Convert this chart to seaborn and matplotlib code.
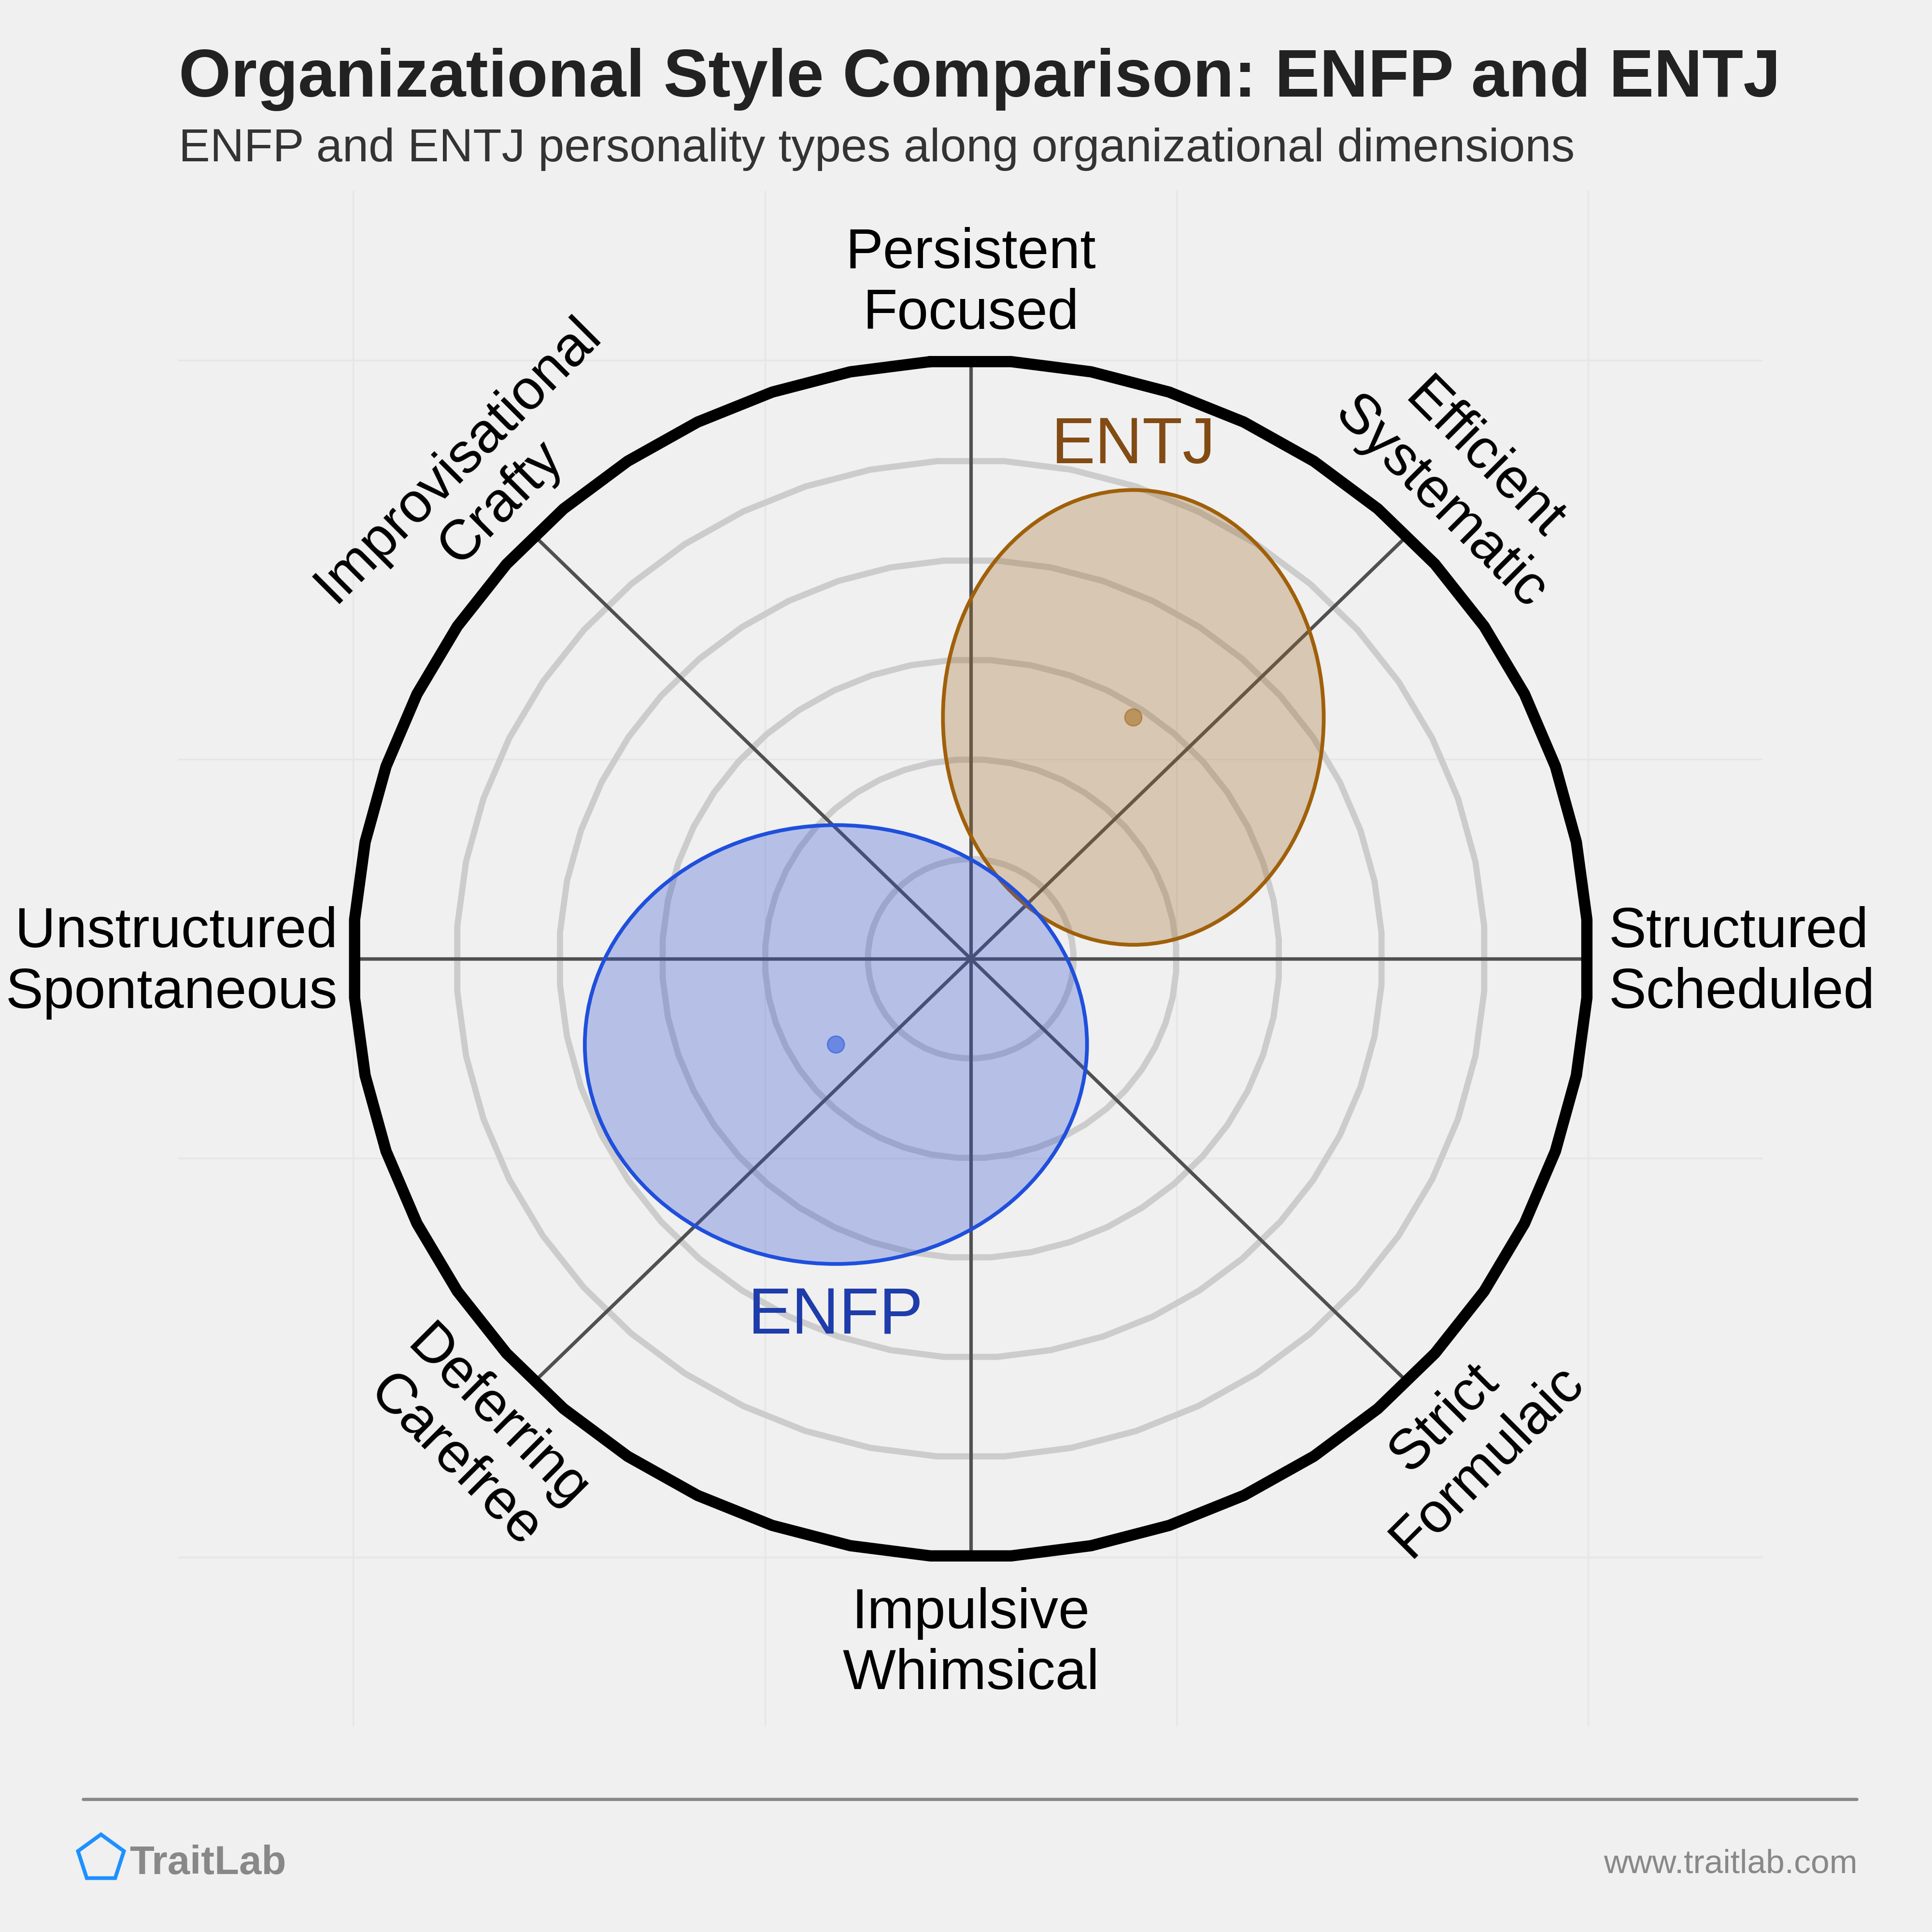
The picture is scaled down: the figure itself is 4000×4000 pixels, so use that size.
import numpy as np
import pandas as pd
import matplotlib.pyplot as plt
import seaborn as sns
from matplotlib.patches import Ellipse, RegularPolygon
from matplotlib.lines import Line2D
from matplotlib.colors import to_rgba

# --- donnees ---
types = ["ENTJ", "ENFP"]
center_x = [1.58, -1.31]
center_y = [2.42, -0.86]
spread_x = [1.85, 2.44]
spread_y = [2.28, 2.20]
fill_colors = ["#a06b28", "#3253d5"]
edge_colors = ["#a0600a", "#1f4fdc"]
label_colors = ["#824b14", "#1e3caa"]

ring_levels = [1, 2, 3, 4, 5]
outer_level = 6
axis_angles = [0, 45, 90, 135, 180, 225, 270, 315]
axis_labels = [
    "Structured\nScheduled",
    "Efficient\nSystematic",
    "Persistent\nFocused",
    "Improvisational\nCrafty",
    "Unstructured\nSpontaneous",
    "Deferring\nCarefree",
    "Impulsive\nWhimsical",
    "Strict\nFormulaic",
]

title = "Organizational Style Comparison: ENFP and ENTJ"
subtitle = "ENFP and ENTJ personality types along organizational dimensions"

# --- style ---
sns.set_theme(style="whitegrid", rc={
    "axes.facecolor": "#f0f0f0",
    "figure.facecolor": "#f0f0f0",
    "grid.color": "#e6e6e6",
    "grid.linewidth": 0.6,
})
plt.rcParams["font.family"] = ["Liberation Sans", "DejaVu Sans"]

fig = plt.figure(figsize=(10, 10), dpi=400)
ax = fig.add_axes([0.0923, 0.10625, 0.8203, 0.795])
ax.set_xlim(-7.7, 7.7)
ax.set_ylim(-7.7, 7.7)
ax.set_xticks([-6, -2, 2, 6])
ax.set_yticks([-6, -2, 2, 6])
ax.tick_params(labelbottom=False, labelleft=False, length=0)
for s in ax.spines.values():
    s.set_visible(False)

# anneaux
n_pts = 48
theta = np.deg2rad(90 + (np.arange(n_pts + 1) + 0.5) * 360 / n_pts)
for lvl in ring_levels:
    ax.plot(lvl * np.cos(theta), lvl * np.sin(theta), color="#cccccc", lw=2.3, zorder=2)
ax.plot(outer_level * np.cos(theta), outer_level * np.sin(theta), color="black", lw=4.2, zorder=4)

# axes radiaux
for ang in axis_angles[:4]:
    a = np.deg2rad(ang)
    ax.plot([-outer_level * np.cos(a), outer_level * np.cos(a)],
            [-outer_level * np.sin(a), outer_level * np.sin(a)],
            color="#505050", lw=1.3, zorder=3)

# ellipses des types
for i, t in enumerate(types):
    ell = Ellipse((center_x[i], center_y[i]), 2 * spread_x[i], 2 * spread_y[i],
                  facecolor=to_rgba(fill_colors[i], 0.3), edgecolor=edge_colors[i],
                  lw=1.4, zorder=5)
    ax.add_patch(ell)

df = pd.DataFrame({"x": center_x, "y": center_y, "type": types})
sns.scatterplot(data=df, x="x", y="y", hue="type", palette=dict(zip(types, edge_colors)),
                s=40, alpha=0.5, edgecolor=None, legend=False, ax=ax, zorder=6)
ax.set_xlabel("")
ax.set_ylabel("")

# etiquettes des types
ax.text(center_x[0], center_y[0] + spread_y[0] + 0.44, types[0], color=label_colors[0],
        fontsize=24.5, ha="center", va="center", zorder=7)
ax.text(center_x[1], center_y[1] - spread_y[1] - 0.53, types[1], color=label_colors[1],
        fontsize=24.5, ha="center", va="center", zorder=7)

# etiquettes des axes
placement = {
    0: ("left", "center", 0, 6.2),
    45: ("center", "bottom", -45, 6.2),
    90: ("center", "bottom", 0, 6.2),
    135: ("center", "bottom", 45, 6.2),
    180: ("right", "center", 0, 6.15),
    225: ("center", "top", -45, 6.25),
    270: ("center", "top", 0, 6.3),
    315: ("center", "top", 45, 6.25),
}
for ang, lab in zip(axis_angles, axis_labels):
    a = np.deg2rad(ang)
    ha, va, rot, r = placement[ang]
    ax.text(r * np.cos(a), r * np.sin(a) - (0.04 if ang in (0, 180) else 0), lab,
            fontsize=21, color="black", ha=ha, va=va, rotation=rot,
            rotation_mode="anchor", multialignment=ha, linespacing=1.2, zorder=7)

# titres
fig.text(0.0925, 0.950, title, fontsize=25, fontweight="bold", color="#222222", va="baseline")
fig.text(0.0925, 0.9165, subtitle, fontsize=17.5, color="#333333", va="baseline")

# pied de page
fig.add_artist(Line2D([0.043, 0.961], [0.06875, 0.06875], color="#888888", lw=1.2))
fig.add_artist(RegularPolygon((0.05225, 0.038), 5, radius=0.0125, orientation=0,
                              facecolor="none", edgecolor="#1e90ff", lw=1.4,
                              transform=fig.transFigure))
fig.text(0.067, 0.03, "TraitLab", fontsize=15, fontweight="bold", color="#888888", va="baseline")
fig.text(0.9615, 0.0305, "www.traitlab.com", fontsize=12.5, color="#888888", ha="right", va="baseline")

fig.savefig("out.png", dpi=400, facecolor=fig.get_facecolor())
